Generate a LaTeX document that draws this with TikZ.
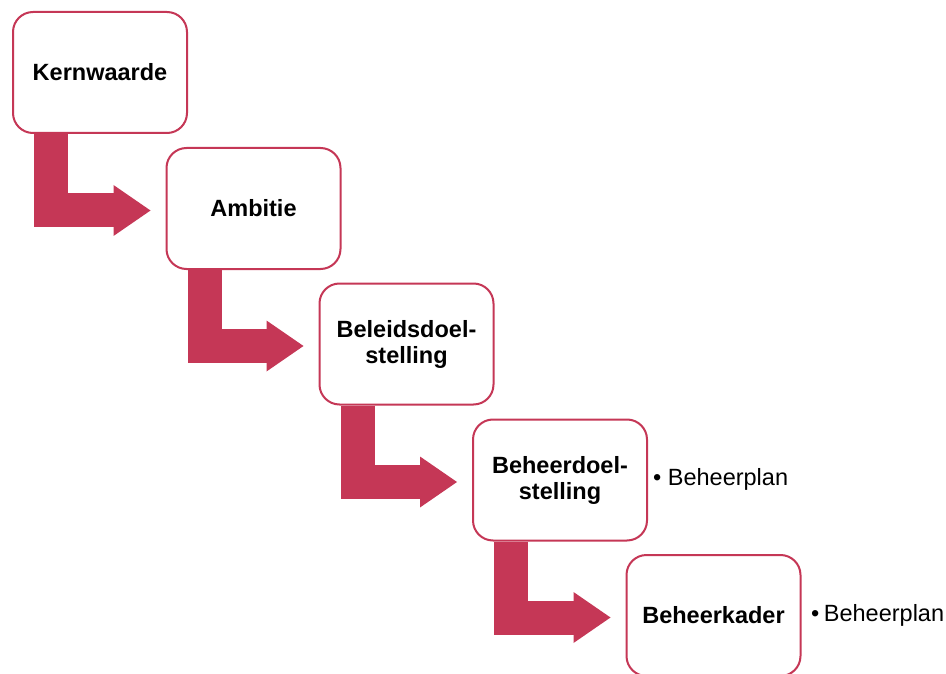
\documentclass[tikz,border=0pt]{standalone}
\usepackage{fontspec}
\setmainfont{Liberation Sans}
\usetikzlibrary{arrows.meta,calc,backgrounds}
\definecolor{crimson}{RGB}{197,55,86}
\begin{document}
\begin{tikzpicture}[x=1pt,y=-1pt]
    \tikzstyle{stage} = [draw=crimson, line width=2pt, fill=white, rounded corners=20pt,
        minimum width=174pt, minimum height=121pt, align=center,
        font=\fontsize{23.5}{26}\selectfont\bfseries]
    \tikzstyle{note} = [anchor=west, inner sep=0pt, font=\fontsize{23.5}{26}\selectfont]
    \tikzstyle{step arrow} = [draw=crimson, line width=34pt, line join=miter,
        -{Triangle[length=37pt, width=51pt, line width=0pt]}]

    \useasboundingbox (0,0) rectangle (946,674);

    \node [stage] (kern) at (100,72.5) {Kernwaarde};
    \node [stage] (ambitie) at (253.5,208.5) {Ambitie};
    \node [stage] (beleid) at (406.5,344) {Beleidsdoel-\\stelling};
    \node [stage] (beheer) at (560,480) {Beheerdoel-\\stelling};
    \node [stage] (kader) at (713.5,615.5) {Beheerkader};

    \node [note] (plan1) at (653,479) {•\hspace{6.5pt}Beheerplan};
    \node [note] (plan2) at (811,615) {•\hspace{4.5pt}Beheerplan};

    \begin{scope}[on background layer]
        \draw [step arrow] ($(kern.south)+(-49,0)$) |- ($(ambitie.west)+(-15,2)$);
        \draw [step arrow] ($(ambitie.south)+(-49,0)$) |- ($(beleid.west)+(-15,2)$);
        \draw [step arrow] ($(beleid.south)+(-49,0)$) |- ($(beheer.west)+(-15,2)$);
        \draw [step arrow] ($(beheer.south)+(-49,0)$) |- ($(kader.west)+(-15,2)$);
    \end{scope}
\end{tikzpicture}
\end{document}
